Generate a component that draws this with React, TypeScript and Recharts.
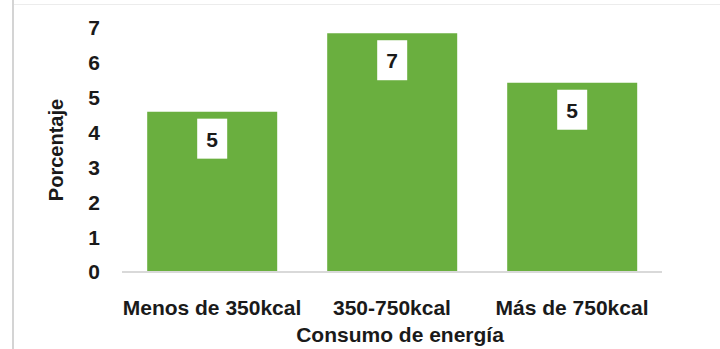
import React from 'react';
import { BarChart, Bar, XAxis, YAxis, LabelList } from 'recharts';

const categories = ['Menos de 350kcal', '350-750kcal', 'Más de 750kcal'];
const values = [4.6, 6.85, 5.43];
const valueLabels = ['5', '7', '5'];
const yTicks = [0, 1, 2, 3, 4, 5, 6, 7];

const data = categories.map((c, i) => ({ name: c, value: values[i], label: valueLabels[i] }));

const FONT = '"Liberation Sans Narrow", "Arial Narrow", "Liberation Sans", Arial, sans-serif';
const TEXT = '#1a1a1a';

const ValueLabel = (props: any) => {
  const { x, y, width, value } = props;
  const cx = x + width / 2;
  return (
    <g>
      <rect x={cx - 15} y={y + 7} width={30} height={40} fill="#ffffff" />
      <text x={cx} y={y + 35} textAnchor="middle" fontFamily={FONT} fontWeight="bold" fontSize={21} fill={TEXT}>
        {value}
      </text>
    </g>
  );
};

const YTitle = (props: any) => {
  const { viewBox } = props;
  const cx = viewBox.x + 56;
  const cy = viewBox.y + viewBox.height / 2;
  return (
    <text x={cx} y={cy} transform={`rotate(-90, ${cx}, ${cy})`} textAnchor="middle" dominantBaseline="central"
      fontFamily={FONT} fontWeight="bold" fontSize={20} fill={TEXT}>
      Porcentaje
    </text>
  );
};

const XTitle = (props: any) => {
  const { viewBox } = props;
  const cx = viewBox.x + viewBox.width / 2 + 8;
  return (
    <text x={cx} y={viewBox.y + 70} textAnchor="middle" fontFamily={FONT} fontWeight="bold" fontSize={21} fill={TEXT}>
      Consumo de energía
    </text>
  );
};

export default function App() {
  return (
    <div style={{ position: 'absolute', left: 0, top: 0, width: 720, height: 349, background: '#fff' }}>
      <div style={{ position: 'absolute', left: 12, top: 0, width: 2, height: 349, background: '#d4d4d4' }} />
      <div style={{ position: 'absolute', left: 14, top: 4, width: 706, height: 1, background: '#ececec' }} />
      <div style={{ position: 'absolute', left: 0, top: 0 }}>
        <BarChart width={720} height={349} data={data} margin={{ top: 28, right: 58, bottom: 0, left: 0 }} barCategoryGap="14%">
          <YAxis
            width={122}
            domain={[0, 7]}
            ticks={yTicks}
            interval={0}
            axisLine={false}
            tickLine={false}
            tickMargin={16}
            tick={{ fontFamily: FONT, fontWeight: 'bold', fontSize: 21, fill: TEXT }}
            label={<YTitle />}
          />
          <XAxis
            dataKey="name"
            axisLine={{ stroke: '#d9d9d9', strokeWidth: 2 }}
            tickLine={false}
            tickMargin={22}
            interval={0}
            height={77}
            tick={{ fontFamily: FONT, fontWeight: 'bold', fontSize: 21, fill: TEXT }}
            label={<XTitle />}
          />
          <Bar dataKey="value" fill="#6AAF3F" isAnimationActive={false}>
            <LabelList dataKey="label" content={<ValueLabel />} />
          </Bar>
        </BarChart>
      </div>
    </div>
  );
}
